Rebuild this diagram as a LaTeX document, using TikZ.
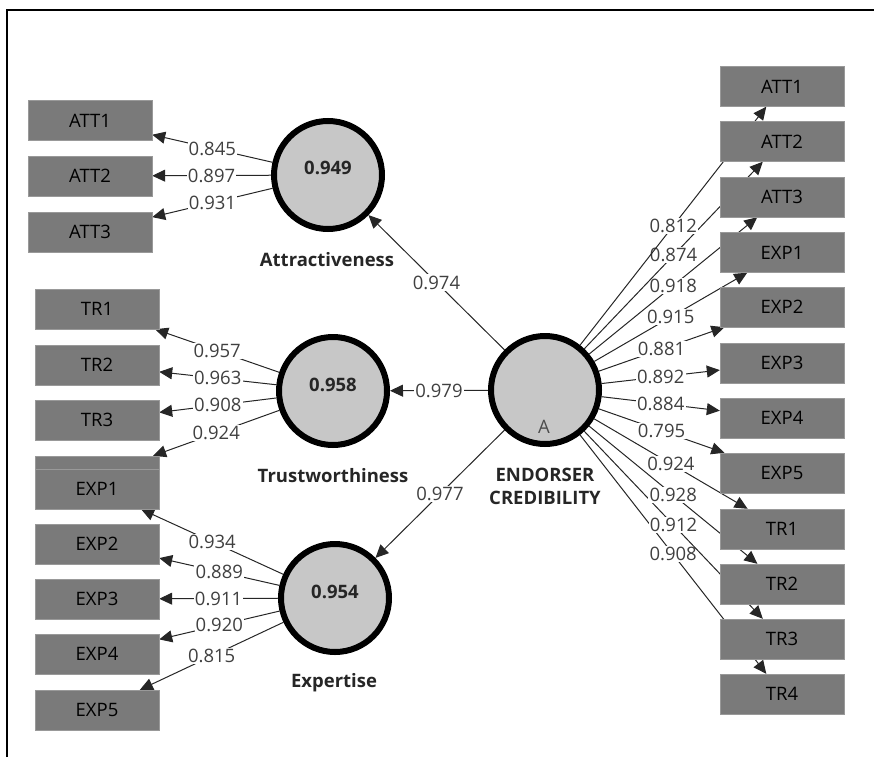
\documentclass[tikz,border=0pt]{standalone}
\usepackage{fontspec}
\setmainfont{Open Sans}
\usetikzlibrary{arrows.meta,backgrounds}

\tikzset{
  ind/.style={draw=black!40,fill=black!52,minimum width=124pt,minimum height=40pt,inner sep=0pt,font=\fontsize{18.5}{20}\selectfont},
  lv/.style={circle,draw=black,line width=6pt,fill=black!22,minimum size=108pt,inner sep=0pt},
  rsq/.style={font=\bfseries\fontsize{18.5}{20}\selectfont,text=black!85},
  lvname/.style={font=\bfseries\fontsize{18.5}{23}\selectfont,align=center,text=black!85},
  ld/.style={fill=white,inner sep=1.2pt,font=\fontsize{18.5}{20}\selectfont,text=black!75},
  conn/.style={draw=black!85,line width=1pt,-{Triangle[length=13pt,width=12pt]}}
}

\begin{document}
\begin{tikzpicture}[x=1pt,y=-1pt]
\useasboundingbox (0,0) rectangle (874,757);
\draw[line width=1.5pt] (7,757) -- (7,10) -- (874,10);

% latent variables
\node[lv] (ATT) at (328,175) {};
\node[rsq] (ATTr) at (328,168) {0.949};
\node[lvname] (ATTn) at (327,260) {Attractiveness};
\node[lv] (TRU) at (333,391) {};
\node[rsq] (TRUr) at (333,385) {0.958};
\node[lvname] (TRUn) at (333,476) {Trustworthiness};
\node[lv] (EXPE) at (335,598) {};
\node[rsq] (EXPEr) at (335,592) {0.954};
\node[lvname] (EXPEn) at (334,683) {Expertise};
\node[lv] (EC) at (545,390) {};
\node[font=\fontsize{18.5}{20}\selectfont,text=black!70] (ECa) at (544,427) {A};
\node[lvname] (ECn) at (545,486) {ENDORSER\\CREDIBILITY};

% first order indicators
\node[ind] (lATT1) at (90,120.5) {ATT1};
\node[ind] (lATT2) at (90,176) {ATT2};
\node[ind] (lATT3) at (90,232) {ATT3};
\node[ind] (lTR1) at (97,309) {TR1};
\node[ind] (lTR2) at (97,365) {TR2};
\node[ind] (lTR3) at (97,420) {TR3};
\node[ind] (lTR4) at (97,476) {};
\node[ind] (lEXP1) at (97,489) {EXP1};
\node[ind] (lEXP2) at (97,544) {EXP2};
\node[ind] (lEXP3) at (97,599) {EXP3};
\node[ind] (lEXP4) at (97,654) {EXP4};
\node[ind] (lEXP5) at (97,710) {EXP5};

% repeated indicators
\node[ind] (rATT1) at (782,86.5) {ATT1};
\node[ind] (rATT2) at (782,141.5) {ATT2};
\node[ind] (rATT3) at (782,197) {ATT3};
\node[ind] (rEXP1) at (782,252.5) {EXP1};
\node[ind] (rEXP2) at (782,307) {EXP2};
\node[ind] (rEXP3) at (782,363) {EXP3};
\node[ind] (rEXP4) at (782,418) {EXP4};
\node[ind] (rEXP5) at (782,473) {EXP5};
\node[ind] (rTR1) at (782,529) {TR1};
\node[ind] (rTR2) at (782,584) {TR2};
\node[ind] (rTR3) at (782,639) {TR3};
\node[ind] (rTR4) at (782,694) {TR4};

\begin{pgfonlayer}{background}
  % inner model
  \draw[conn] (EC) -- node[ld] (b1) {0.974} (ATT);
  \draw[conn] (EC) -- node[ld] (b2) {0.979} (TRU);
  \draw[conn] (EC) -- node[ld] (b3) {0.977} (EXPE);
  % left loadings
  \draw[conn] (ATT) -- node[ld] (a1) {0.845} (lATT1);
  \draw[conn] (ATT) -- node[ld] (a2) {0.897} (lATT2);
  \draw[conn] (ATT) -- node[ld] (a3) {0.931} (lATT3);
  \draw[conn] (TRU) -- node[ld] (t1) {0.957} (lTR1);
  \draw[conn] (TRU) -- node[ld] (t2) {0.963} (lTR2);
  \draw[conn] (TRU) -- node[ld] (t3) {0.908} (lTR3);
  \draw[conn] (TRU) -- node[ld] (t4) {0.924} (lTR4);
  \draw[conn] (EXPE) -- node[ld] (e1) {0.934} (lEXP1);
  \draw[conn] (EXPE) -- node[ld] (e2) {0.889} (lEXP2);
  \draw[conn] (EXPE) -- node[ld] (e3) {0.911} (lEXP3);
  \draw[conn] (EXPE) -- node[ld] (e4) {0.920} (lEXP4);
  \draw[conn] (EXPE) -- node[ld] (e5) {0.815} (lEXP5);
  % right loadings
  \draw[conn] (EC) -- node[ld] (c12) {0.908} (rTR4);
  \draw[conn] (EC) -- node[ld] (c11) {0.912} (rTR3);
  \draw[conn] (EC) -- node[ld] (c10) {0.928} (rTR2);
  \draw[conn] (EC) -- node[ld] (c9) {0.924} (rTR1);
  \draw[conn] (EC) -- node[ld] (c8) {0.795} (rEXP5);
  \draw[conn] (EC) -- node[ld] (c7) {0.884} (rEXP4);
  \draw[conn] (EC) -- node[ld] (c6) {0.892} (rEXP3);
  \draw[conn] (EC) -- node[ld] (c5) {0.881} (rEXP2);
  \draw[conn] (EC) -- node[ld] (c4) {0.915} (rEXP1);
  \draw[conn] (EC) -- node[ld] (c3) {0.918} (rATT3);
  \draw[conn] (EC) -- node[ld] (c2) {0.874} (rATT2);
  \draw[conn] (EC) -- node[ld] (c1) {0.812} (rATT1);
\end{pgfonlayer}
\end{tikzpicture}
\end{document}
